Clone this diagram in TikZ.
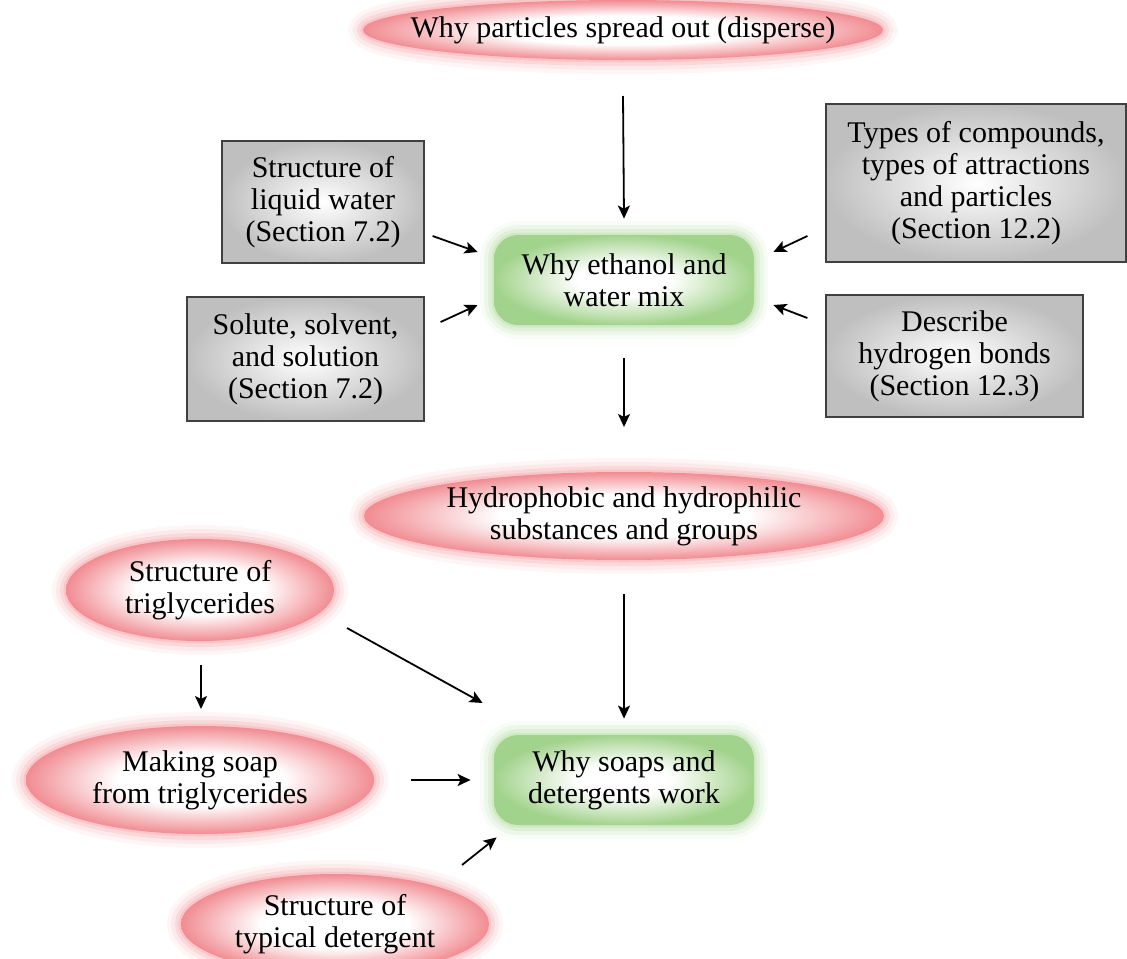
\documentclass[tikz,border=0pt]{standalone}
\usepackage{fontspec}
\setmainfont{Liberation Serif}
\usetikzlibrary{arrows.meta, backgrounds}
\definecolor{pinkc}{RGB}{241,140,146}
\definecolor{greenc}{RGB}{162,211,140}
\pgfdeclareradialshading{pinkglow}{\pgfpoint{0bp}{0bp}}{color(0bp)=(white); color(12bp)=(white); color(25bp)=(pinkc); color(50bp)=(pinkc)}
\pgfdeclareradialshading{greenglow}{\pgfpoint{0bp}{0bp}}{color(0bp)=(white); color(9bp)=(white); color(25bp)=(greenc); color(50bp)=(greenc)}

\begin{document}
\begin{tikzpicture}[
  x=0.5pt, y=-0.5pt,
  font=\fontsize{15}{16}\selectfont,
  >={Stealth[length=6.5pt, width=6pt, inset=1.5pt]},
  glow/.style={preaction={draw=#1, line width=14pt, opacity=.08},
    preaction={draw=#1, line width=10pt, opacity=.12},
    preaction={draw=#1, line width=6pt, opacity=.18},
    preaction={draw=#1, line width=2.5pt, opacity=.25}},
  blob/.style={shading=pinkglow, glow=pinkc},
  blobtext/.style={align=center, inner sep=0pt},
  goal/.style={rounded corners=12pt, minimum width=130pt, minimum height=45pt, align=center, shading=greenglow, glow=greenc},
  prior/.style={draw=black!75, line width=0.6pt, align=center, inner color=white, outer color=black!25},
  arr/.style={->, line width=0.9pt}
]
\useasboundingbox (0,0) rectangle (1127,958);

% topics (pink ellipses are drawn behind)
\node[blobtext] (top) at (623,30) {Why particles spread out (disperse)};
\node[blobtext] (hydro) at (624,516) {Hydrophobic and hydrophilic\\substances and groups};
\node[blobtext] (trig) at (200,590) {Structure of\\triglycerides};
\node[blobtext] (making) at (200,780) {Making soap\\from triglycerides};
\node[blobtext] (deterg) at (335,924) {Structure of\\typical detergent};

% goals
\node[goal] (mix) at (624,280) {Why ethanol and\\water mix};
\node[goal] (soaps) at (624,780) {Why soaps and\\detergents work};

% earlier sections
\node[prior, minimum width=101pt, minimum height=61pt] (water) at (323,202) {Structure of\\liquid water\\(Section 7.2)};
\node[prior, minimum width=118.5pt, minimum height=62pt] (solute) at (305.5,359) {Solute, solvent,\\and solution\\(Section 7.2)};
\node[prior, minimum width=150pt, minimum height=79pt] (types) at (976,183) {Types of compounds,\\types of attractions\\and particles\\(Section 12.2)};
\node[prior, minimum width=128.5pt, minimum height=61pt] (hbond) at (954.5,356) {Describe\\hydrogen bonds\\(Section 12.3)};

\begin{scope}[on background layer]
  \path[blob] (top.center) ellipse [x radius=130pt, y radius=15pt];
  \path[blob] (hydro.center) ellipse [x radius=130pt, y radius=22pt];
  \path[blob] (trig.center) ellipse [x radius=67pt, y radius=25.5pt];
  \path[blob] (making.center) ellipse [x radius=87pt, y radius=27pt];
  \path[blob] (deterg.center) ellipse [x radius=77pt, y radius=25pt];
\end{scope}

\draw[arr] ([shift={(0,66)}]top.center) -- ([shift={(0,-16)}]mix.north);
\draw[arr] ([shift={(8,34)}]water.east) -- ([shift={(-16,-28)}]mix.west);
\draw[arr] ([shift={(16,-37)}]solute.east) -- ([shift={(-16,25)}]mix.west);
\draw[arr] ([shift={(-18,53)}]types.west) -- ([shift={(19,-28)}]mix.east);
\draw[arr] ([shift={(-18,-38)}]hbond.west) -- ([shift={(19,25)}]mix.east);
\draw[arr] ([shift={(0,33)}]mix.south) -- ([shift={(0,-89)}]hydro.center);
\draw[arr] ([shift={(0,78)}]hydro.center) -- ([shift={(0,-16)}]soaps.north);
\draw[arr] ([shift={(1,75)}]trig.center) -- ([shift={(1,-71)}]making.center);
\draw[arr] ([shift={(147,38)}]trig.center) -- ([shift={(-11,-77)}]soaps.west);
\draw[arr] ([shift={(211,0)}]making.center) -- ([shift={(-23,0)}]soaps.west);
\draw[arr] ([shift={(127,-59)}]deterg.center) -- ([shift={(3,12)}]soaps.south west);
\end{tikzpicture}
\end{document}
